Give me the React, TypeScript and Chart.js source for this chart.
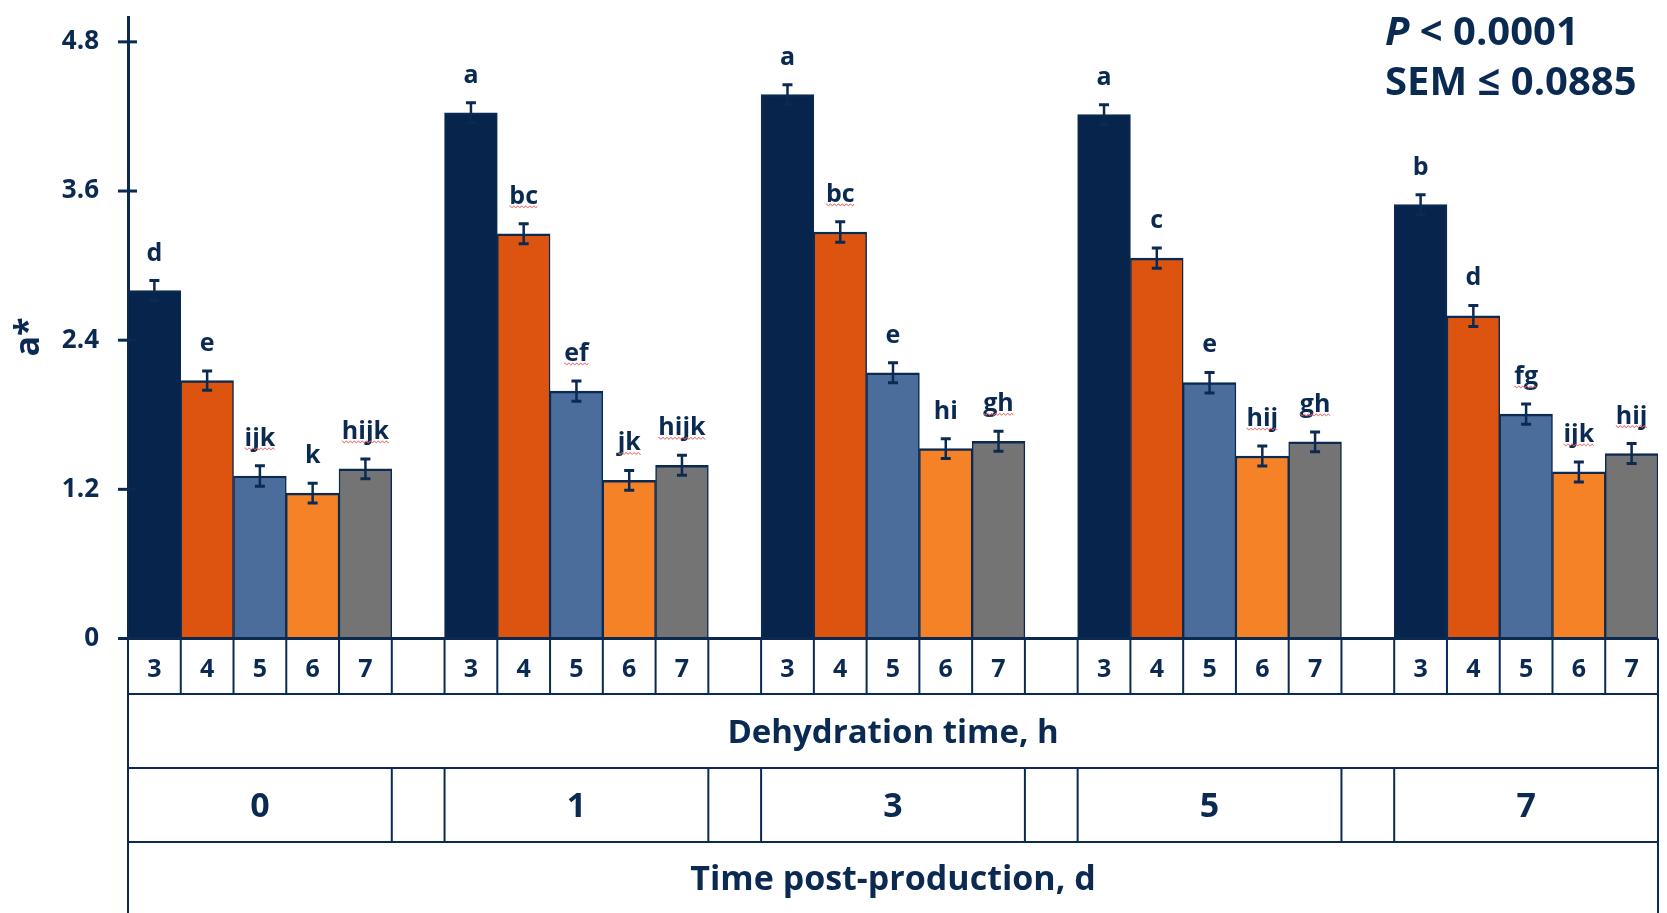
import React, { useEffect, useRef } from 'react';
import { Chart, registerables } from 'chart.js';

Chart.register(...registerables);

// ---------- data ----------
const postProductionDays = ['0', '1', '3', '5', '7'];
const dehydrationHours = ['3', '4', '5', '6', '7'];

const yTickValues = [0, 1.2, 2.4, 3.6, 4.8];
const yTickLabels = ['0', '1.2', '2.4', '3.6', '4.8'];

// a* means per dehydration time (values across post-production days 0,1,3,5,7)
const h3Values = [2.8, 4.23, 4.375, 4.215, 3.49];
const h4Values = [2.075, 3.256, 3.27, 3.06, 2.595];
const h5Values = [1.307, 1.99, 2.138, 2.058, 1.805];
const h6Values = [1.17, 1.272, 1.528, 1.468, 1.34];
const h7Values = [1.365, 1.394, 1.587, 1.582, 1.488];

const h3Sem = [0.08, 0.08, 0.08, 0.08, 0.08];
const h4Sem = [0.078, 0.08, 0.082, 0.082, 0.085];
const h5Sem = [0.082, 0.082, 0.08, 0.082, 0.082];
const h6Sem = [0.08, 0.08, 0.08, 0.08, 0.08];
const h7Sem = [0.08, 0.08, 0.08, 0.08, 0.08];

const h3Letters = ['d', 'a', 'a', 'a', 'b'];
const h4Letters = ['e', 'bc', 'bc', 'c', 'd'];
const h5Letters = ['ijk', 'ef', 'e', 'e', 'fg'];
const h6Letters = ['k', 'jk', 'hi', 'hij', 'ijk'];
const h7Letters = ['hijk', 'hijk', 'gh', 'gh', 'hij'];

// letters carrying the word processor's spell-check squiggle
const h3Flag = [false, false, false, false, false];
const h4Flag = [false, true, true, false, false];
const h5Flag = [true, true, false, false, true];
const h6Flag = [false, true, false, true, true];
const h7Flag = [true, true, true, true, true];

const xTitleInner = 'Dehydration time, h';
const xTitleOuter = 'Time post-production, d';
const yTitle = 'a*';
const statP = ' < 0.0001';
const statSem = 'SEM ≤ 0.0885';

// ---------- style ----------
const seriesColors = ['#06244c', '#dc5410', '#4a6d9b', '#f58226', '#747474'];
const NAVY = '#0b2a52';
const FONT = "'Open Sans', sans-serif";

// ---------- build flat category table ----------
const seriesValues = [h3Values, h4Values, h5Values, h6Values, h7Values];
const seriesSem = [h3Sem, h4Sem, h5Sem, h6Sem, h7Sem];
const seriesLetters = [h3Letters, h4Letters, h5Letters, h6Letters, h7Letters];
const seriesFlag = [h3Flag, h4Flag, h5Flag, h6Flag, h7Flag];

const labels: string[] = [];
const values: (number | null)[] = [];
const sems: number[] = [];
const letters: string[] = [];
const flags: boolean[] = [];
const colors: string[] = [];
const groupStart: number[] = [];

postProductionDays.forEach((_d, g) => {
  groupStart.push(labels.length);
  dehydrationHours.forEach((h, s) => {
    labels.push(h);
    values.push(seriesValues[s][g]);
    sems.push(seriesSem[s][g]);
    letters.push(seriesLetters[s][g]);
    flags.push(seriesFlag[s][g]);
    colors.push(seriesColors[s]);
  });
  if (g < postProductionDays.length - 1) {
    labels.push('');
    values.push(null);
    sems.push(0);
    letters.push('');
    flags.push(false);
    colors.push('rgba(0,0,0,0)');
  }
});

const overlay = {
  id: 'overlay',
  afterDatasetsDraw(chart: any) {
    const { ctx } = chart;
    const x = chart.scales.x;
    const y = chart.scales.y;
    ctx.save();
    values.forEach((v, i) => {
      if (v == null) return;
      const cx = x.getPixelForValue(i);
      const yt = y.getPixelForValue(v + sems[i]);
      const yb = y.getPixelForValue(v - sems[i]);
      ctx.strokeStyle = NAVY;
      ctx.lineWidth = 2.5;
      ctx.beginPath();
      ctx.moveTo(cx, yt);
      ctx.lineTo(cx, yb);
      ctx.stroke();
      ctx.lineWidth = 3;
      ctx.beginPath();
      ctx.moveTo(cx - 5, yt);
      ctx.lineTo(cx + 5, yt);
      ctx.moveTo(cx - 5, yb);
      ctx.lineTo(cx + 5, yb);
      ctx.stroke();

      // significance letters
      const base = yt - 20;
      ctx.fillStyle = NAVY;
      ctx.font = `bold 25px ${FONT}`;
      ctx.textAlign = 'center';
      ctx.textBaseline = 'alphabetic';
      ctx.fillText(letters[i], cx, base);
      if (flags[i]) {
        const w = ctx.measureText(letters[i]).width;
        ctx.strokeStyle = '#e26a6a';
        ctx.lineWidth = 1;
        ctx.beginPath();
        const uy = base + 3;
        for (let k = 0; k <= w; k += 1) {
          const px = cx - w / 2 + k;
          const py = uy + (Math.floor(k / 2) % 2 === 0 ? -0.8 : 0.8);
          if (k === 0) ctx.moveTo(px, py);
          else ctx.lineTo(px, py);
        }
        ctx.stroke();
      }
    });
    ctx.restore();
  },
  afterDraw(chart: any) {
    const { ctx, chartArea } = chart;
    const x = chart.scales.x;
    const y = chart.scales.y;
    const left = chartArea.left;
    const right = chartArea.right;
    const top0 = chartArea.bottom;
    const H = chart.height;
    const boundary = (k: number) =>
      k <= 0 ? left : k >= labels.length ? right : (x.getPixelForValue(k - 1) + x.getPixelForValue(k)) / 2;

    ctx.save();
    // y tick marks crossing the axis
    ctx.strokeStyle = NAVY;
    ctx.lineWidth = 3;
    yTickValues.forEach((t) => {
      const py = y.getPixelForValue(t);
      ctx.beginPath();
      ctx.moveTo(left - 10, py);
      ctx.lineTo(left + 9, py);
      ctx.stroke();
    });
    // baseline
    ctx.beginPath();
    ctx.moveTo(left, top0);
    ctx.lineTo(right, top0);
    ctx.stroke();

    // table
    const r1 = 694;
    const r2 = 768;
    const r3 = 842;
    ctx.lineWidth = 2;
    ctx.strokeStyle = NAVY;
    ctx.beginPath();
    ctx.moveTo(left, top0);
    ctx.lineTo(left, H);
    ctx.moveTo(right, top0);
    ctx.lineTo(right, H);
    [r1, r2, r3].forEach((ry) => {
      ctx.moveTo(left, ry);
      ctx.lineTo(right, ry);
    });
    for (let k = 1; k < labels.length; k++) {
      const bx = boundary(k);
      ctx.moveTo(bx, top0);
      ctx.lineTo(bx, r1);
    }
    groupStart.forEach((gs, g) => {
      if (g === 0) return;
      const a = boundary(gs - 1);
      const b = boundary(gs);
      ctx.moveTo(a, r2);
      ctx.lineTo(a, r3);
      ctx.moveTo(b, r2);
      ctx.lineTo(b, r3);
    });
    ctx.stroke();

    ctx.fillStyle = NAVY;
    ctx.textAlign = 'center';
    ctx.textBaseline = 'alphabetic';
    ctx.font = `bold 25px ${FONT}`;
    labels.forEach((l, i) => {
      if (!l) return;
      ctx.fillText(l, x.getPixelForValue(i), 677);
    });
    const mid = (left + right) / 2;
    ctx.font = `bold 33px ${FONT}`;
    ctx.fillText(xTitleInner, mid, 743);
    ctx.font = `bold 34px ${FONT}`;
    postProductionDays.forEach((d, g) => {
      ctx.fillText(d, x.getPixelForValue(groupStart[g] + 2), 817);
    });
    ctx.fillText(xTitleOuter, mid, 890);

    // y title
    ctx.save();
    ctx.translate(39, 337);
    ctx.rotate(-Math.PI / 2);
    ctx.font = `bold 34px ${FONT}`;
    ctx.textAlign = 'center';
    ctx.fillText(yTitle, 0, 0);
    ctx.restore();

    // stats
    ctx.textAlign = 'left';
    ctx.font = `italic bold 40px ${FONT}`;
    ctx.fillText('P', 1385, 45);
    const pw = ctx.measureText('P').width;
    ctx.font = `bold 40px ${FONT}`;
    ctx.fillText(statP, 1385 + pw, 45);
    ctx.fillText(statSem, 1385, 95);
    ctx.restore();
  },
};

export default function App() {
  const ref = useRef<HTMLCanvasElement | null>(null);
  useEffect(() => {
    if (!ref.current) return;
    const chart = new Chart(ref.current, {
      type: 'bar',
      data: {
        labels,
        datasets: [
          {
            data: values as any,
            backgroundColor: colors,
            borderColor: NAVY,
            borderWidth: { top: 2.5, left: 1.5, right: 1.5, bottom: 0 } as any,
            borderSkipped: false,
            barPercentage: 1,
            categoryPercentage: 1,
          },
        ],
      },
      options: {
        responsive: false,
        animation: false,
        layout: { padding: { left: 0, right: 9, top: 17, bottom: 274.5 } },
        plugins: { legend: { display: false }, tooltip: { enabled: false } },
        scales: {
          x: { display: false },
          y: {
            min: 0,
            max: 5,
            afterBuildTicks: (s: any) => {
              s.ticks = yTickValues.map((v) => ({ value: v }));
            },
            afterFit: (s: any) => {
              s.width = 128;
              s.paddingTop = 0;
              s.paddingBottom = 0;
            },
            ticks: {
              padding: 29,
              color: NAVY,
              font: { family: FONT, weight: 'bold', size: 26 },
              callback: (_v: any, i: number) => yTickLabels[i],
            },
            grid: { drawOnChartArea: false, drawTicks: false },
            border: { display: true, width: 3, color: NAVY },
          },
        },
      },
      plugins: [overlay],
    });
    return () => chart.destroy();
  }, []);
  return (
    <div style={{ position: 'absolute', left: 0, top: 0, width: 1667, height: 913, background: '#fff' }}>
      <canvas ref={ref} width={1667} height={913} />
    </div>
  );
}
